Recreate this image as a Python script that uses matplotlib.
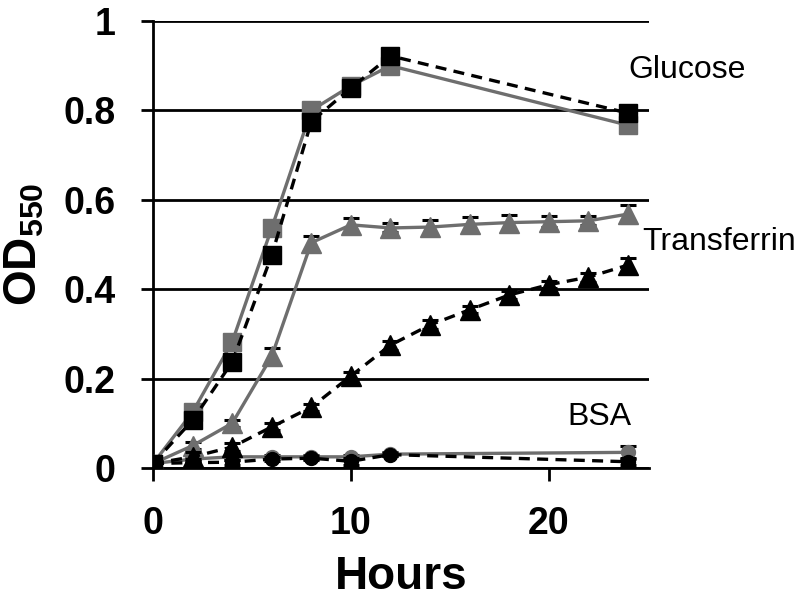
import numpy as np
import matplotlib
matplotlib.use("Agg")
import matplotlib.pyplot as plt

plt.rcParams['font.family'] = ['Liberation Sans', 'DejaVu Sans']
plt.rcParams['mathtext.fontset'] = 'custom'
plt.rcParams['mathtext.rm'] = 'Liberation Sans'
plt.rcParams['mathtext.bf'] = 'Liberation Sans:bold'

# time points (hours)
t_glc = [0, 2, 4, 6, 8, 10, 12, 24]
t_tf = [0, 2, 4, 6, 8, 10, 12, 14, 16, 18, 20, 22, 24]
t_bsa = [0, 2, 4, 6, 8, 10, 12, 24]

# glucose
glc_gray = [0.01, 0.125, 0.282, 0.537, 0.80, 0.855, 0.90, 0.767]
glc_gray_err = [0.005, 0.008, 0.01, 0.008, 0.008, 0.01, 0.01, 0.012]
glc_black = [0.01, 0.107, 0.237, 0.476, 0.775, 0.85, 0.922, 0.794]
glc_black_err = [0.005, 0.01, 0.01, 0.012, 0.012, 0.01, 0.012, 0.012]

# transferrin
tf_gray = [0.01, 0.05, 0.10, 0.25, 0.504, 0.544, 0.537, 0.539, 0.545, 0.549, 0.551, 0.553, 0.568]
tf_gray_err = [0.005, 0.008, 0.008, 0.018, 0.016, 0.015, 0.01, 0.016, 0.016, 0.016, 0.012, 0.01, 0.02]
tf_black = [0.01, 0.025, 0.047, 0.092, 0.136, 0.206, 0.275, 0.32, 0.354, 0.387, 0.41, 0.427, 0.454]
tf_black_err = [0.005, 0.01, 0.01, 0.008, 0.008, 0.008, 0.01, 0.01, 0.008, 0.008, 0.008, 0.01, 0.015]

# BSA
bsa_gray = [0.01, 0.02, 0.025, 0.025, 0.025, 0.025, 0.031, 0.035]
bsa_gray_err = [0.004, 0.005, 0.006, 0.004, 0.004, 0.005, 0.004, 0.015]
bsa_black = [0.01, 0.012, 0.013, 0.02, 0.022, 0.015, 0.03, 0.014]
bsa_black_err = [0.004, 0.008, 0.006, 0.004, 0.004, 0.008, 0.004, 0.008]

gray = '#6e6e6e'

fig = plt.figure(figsize=(7.95, 6), dpi=100)
ax = fig.add_axes([0.1925, 0.22, 0.6235, 0.745])

def series(x, y, err, color, ls, marker, ms, z):
    ax.errorbar(x, y, yerr=err, color=color, ls=ls, lw=2.4, marker=marker, ms=ms,
                mec=color, mfc=color, ecolor='black', elinewidth=1.8, capsize=6,
                capthick=2.2, zorder=z, dashes=(3.3, 2.2) if ls == '--' else (None, None))

series(t_glc, glc_gray, glc_gray_err, gray, '-', 's', 12.5, 3)
series(t_glc, glc_black, glc_black_err, 'black', '--', 's', 12.5, 4)
series(t_tf, tf_gray, tf_gray_err, gray, '-', '^', 14, 3)
series(t_tf, tf_black, tf_black_err, 'black', '--', '^', 14, 4)
series(t_bsa, bsa_gray, bsa_gray_err, gray, '-', 'o', 10, 3)
series(t_bsa, bsa_black, bsa_black_err, 'black', '--', 'o', 10, 4)

ax.set_xlim(0, 25.05)
ax.set_ylim(0, 1)
ax.set_yticks([0, 0.2, 0.4, 0.6, 0.8, 1])
ax.set_yticklabels(['0', '0.2', '0.4', '0.6', '0.8', '1'])
ax.set_xticks([0, 10, 20])
ax.yaxis.grid(True, color='black', lw=2)
ax.set_axisbelow(True)
for s in ['top', 'right']:
    ax.spines[s].set_visible(False)
for s in ['left', 'bottom']:
    ax.spines[s].set_linewidth(2)
ax.tick_params(direction='out', length=9, width=2, labelsize=27, pad=18)
for lab in ax.get_xticklabels() + ax.get_yticklabels():
    lab.set_fontweight('bold')

ax.set_xlabel('Hours', fontsize=33, fontweight='bold', labelpad=10)
ax.set_ylabel(r'$\mathbf{OD_{550}}$', fontsize=33)
ax.yaxis.set_label_coords(-0.215, 0.5)

ax.text(24.0, 0.872, 'Glucose', fontsize=23, va='baseline', clip_on=False)
ax.text(24.7, 0.488, 'Transferrin', fontsize=23, va='baseline', clip_on=False)
ax.text(20.95, 0.096, 'BSA', fontsize=23, va='baseline', clip_on=False)

fig.savefig('out.png', dpi=100)
